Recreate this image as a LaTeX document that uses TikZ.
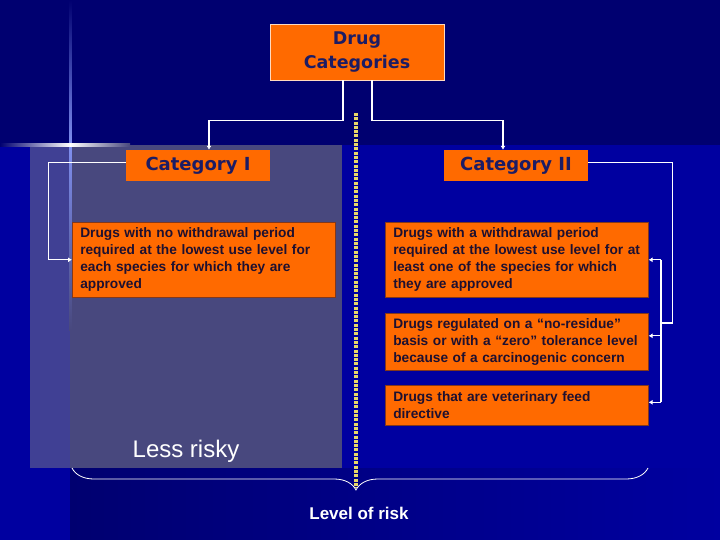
\documentclass[tikz,border=0pt]{standalone}
\usepackage{fontspec}
\setmainfont{Liberation Sans}
\newfontfamily\headfont{DejaVu Sans}
\usetikzlibrary{arrows.meta,decorations.pathreplacing}

\definecolor{navytop}{HTML}{000070}
\definecolor{deepblue}{HTML}{0000A0}
\definecolor{panelgray}{HTML}{48487E}
\definecolor{paneledge}{HTML}{404094}
\definecolor{glowblue}{HTML}{8090F0}
\definecolor{boxorange}{HTML}{FF6A00}
\definecolor{inkblue}{HTML}{1C1C64}
\definecolor{inkdark}{HTML}{1E1030}
\definecolor{dotyellow}{HTML}{E8D868}

\begin{document}
\begin{tikzpicture}[x=1pt, y=-1pt,
		catbox/.style={fill=boxorange, text=inkblue, font=\headfont\bfseries\fontsize{18}{22}\selectfont, minimum width=144pt, minimum height=31pt, inner sep=0pt},
		textbox/.style={fill=boxorange, draw=inkdark!55!boxorange, line width=0.6pt, text=inkdark, anchor=north west, align=left, text width=247pt, inner xsep=8pt, inner ysep=3pt, font=\bfseries\fontsize{13.7}{17}\selectfont},
		conn/.style={draw=white, line width=1.1pt, -{Latex[length=4pt,width=5pt]}},
		wire/.style={draw=white, line width=1.1pt}]
	\useasboundingbox (0,0) rectangle (720,540);

	\fill[navytop] (0,0) rectangle (720,145);
	\fill[deepblue] (0,145) rectangle (720,540);
	\shade[left color=navytop, right color=deepblue] (70,468) rectangle (720,540);
	\fill[paneledge] (30,145) rectangle (70,468);
	\fill[panelgray] (70,145) rectangle (342,468);

	\shade[top color=navytop, bottom color=glowblue] (69,0) rectangle (71.5,145);
	\shade[top color=glowblue, bottom color=panelgray] (69,145) rectangle (71.5,330);
	\shade[left color=navytop, right color=white] (0,144) rectangle (70,146.5);
	\shade[left color=white, right color=panelgray] (70,144) rectangle (130,146.5);

	\node[catbox, minimum width=174pt, minimum height=56pt, draw=white!75!boxorange, line width=0.8pt, align=center, font=\headfont\bfseries\fontsize{17.5}{24}\selectfont] (drugcat) at (357,52) {\raisebox{-2pt}{Drug}\\\raisebox{-2pt}{Categories}};

	\node[catbox] (cati) at (198,165.5) {Category I};
	\node[catbox] (catii) at (516,165.5) {Category II};

	\node[textbox, minimum height=75pt] (nowd) at (72,222) {Drugs with no withdrawal period\\required at the lowest use level for\\each species for which they are\\approved};
	\node[textbox, minimum height=75pt] (withwd) at (385,222) {Drugs with a withdrawal period\\required at the lowest use level for at\\least one of the species for which\\they are approved};
	\node[textbox, minimum height=57pt] (noresidue) at (385,313) {Drugs regulated on a “no-residue”\\basis or with a “zero” tolerance level\\because of a carcinogenic concern};
	\node[textbox, minimum height=40pt] (vfd) at (385,385) {Drugs that are veterinary feed\\directive};

	\coordinate (hub) at (661,323);
	\coordinate (risktip) at (356,488);

	\draw[conn] ([xshift=-14pt]drugcat.south) -- ++(0,40) -| ([xshift=11pt]cati.north);
	\draw[conn] ([xshift=15pt]drugcat.south) -- ++(0,40) -| ([xshift=-13pt]catii.north);
	\draw[conn] ([yshift=3pt]cati.west) -- ++(-77,0) |- (nowd.west);
	\draw[wire] ([yshift=3pt]catii.east) -- ++(84,0) |- (hub);
	\draw[wire] (withwd.east -| hub) -- ([yshift=3pt]vfd.east -| hub);
	\foreach \b/\s in {withwd/0, noresidue/6, vfd/3}
		\draw[conn] ([yshift=\s pt]\b.east -| hub) -- ([yshift=\s pt]\b.east);

	\draw[dotyellow, line width=3.2pt, dash pattern=on 3pt off 1.3pt] (356,113) -- (risktip);
	\draw[white, line width=0.8pt, decorate, decoration={brace, mirror, amplitude=22pt, aspect=0.493}] (72,468) -- (648,468);

	\node[text=white, font=\fontsize{24}{28}\selectfont] (lessrisky) at (186,451) {Less risky};
	\node[text=white, font=\bfseries\fontsize{17}{20}\selectfont] (risklevel) at (359,513) {Level of risk};
\end{tikzpicture}
\end{document}
